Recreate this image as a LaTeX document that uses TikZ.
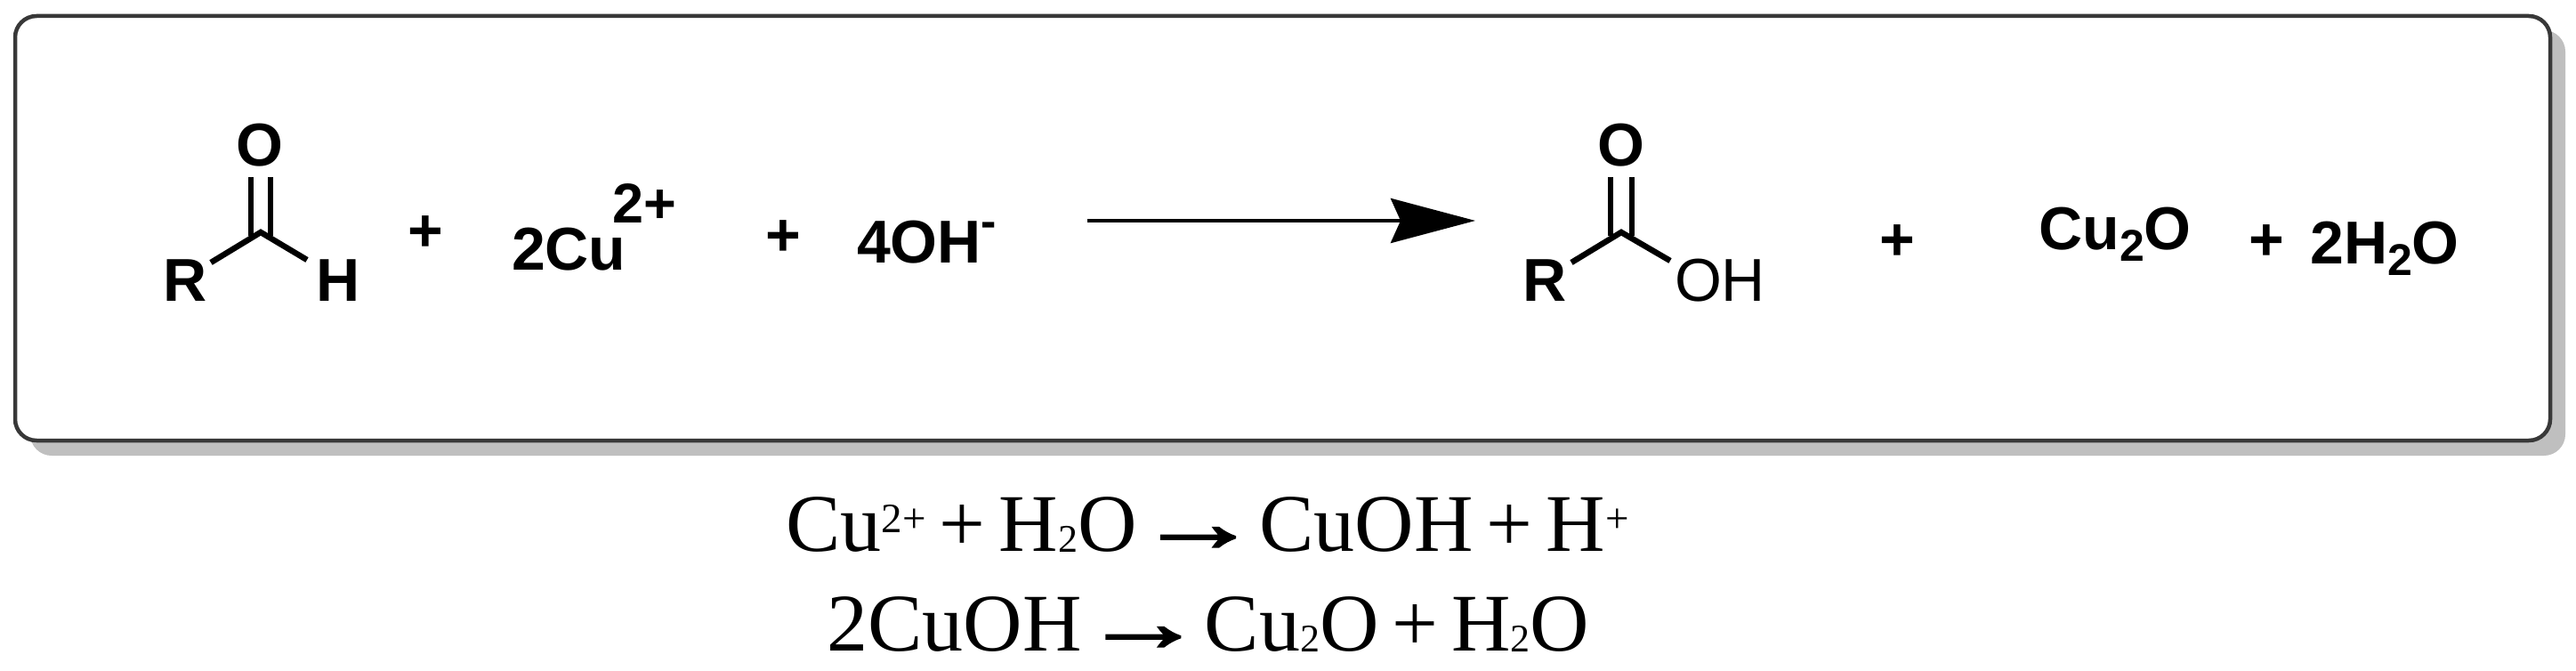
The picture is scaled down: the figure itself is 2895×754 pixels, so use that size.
\documentclass[tikz,border=0pt]{standalone}
\usepackage{fontspec}
\setmainfont{Liberation Sans}
\newfontfamily\eqfont{Liberation Serif}
\newfontfamily\eqarrowfont[FakeBold=2.5]{Liberation Serif}
\usetikzlibrary{arrows.meta}
\definecolor{frameC}{HTML}{383838}
\definecolor{shadowC}{HTML}{BFBFBF}
\newcommand{\chemsub}[1]{\raisebox{-13pt}{\fontsize{50}{50}\selectfont #1}}
\newcommand{\eqsub}[1]{\raisebox{-1pt}{\fontsize{44}{46}\selectfont #1}}
\newcommand{\eqsup}[1]{\raisebox{21pt}{\fontsize{47}{48}\selectfont #1}}
\newcommand{\eqto}{\scalebox{1.5}[1]{\eqarrowfont →}}
\newcommand{\eqplus}{\kern15pt+\kern15pt}
\tikzset{
  chem/.style={inner sep=0pt,outer sep=0pt,anchor=base,font=\fontsize{68}{70}\selectfont\bfseries},
  chemthin/.style={chem,font=\fontsize{68}{70}\selectfont},
  chemplus/.style={inner sep=0pt,outer sep=0pt,anchor=center,font=\fontsize{68}{70}\selectfont\bfseries},
  eqline/.style={inner sep=0pt,outer sep=0pt,anchor=base,font=\fontsize{92}{94}\selectfont\eqfont},
  bond/.style={line width=6.5pt,black},
  frame/.style={rounded corners=24pt,line width=4.5pt,draw=frameC,fill=white},
  frameshadow/.style={rounded corners=24pt,fill=shadowC},
  react/.style={line width=4.5pt,black,-{Stealth[length=95pt,width=50pt,inset=11pt]}}
}
\begin{document}
\begin{tikzpicture}[x=1pt,y=-1pt]
\useasboundingbox (0,0) rectangle (2895,754);
\fill[frameshadow] (34,34) rectangle (2883,512);
\draw[frame] (17,18) rectangle (2866,495);

% aldehyde
\node[chem] (O1) at (292,187) {O};
\node[chem] (R1) at (208,338) {R};
\node[chem] (H1) at (380,338) {H};
\coordinate (C1) at (293,261);
\coordinate (C1a) at (282,265);
\coordinate (C1b) at (304,265);
\coordinate (O1a) at (282,199);
\coordinate (O1b) at (304,199);
\coordinate (R1b) at (237,295);
\coordinate (H1b) at (345,292);
\draw[bond] (O1a) -- (C1a);
\draw[bond] (O1b) -- (C1b);
\draw[bond] (R1b) -- (C1) -- (H1b);

\node[chemplus] (p1) at (478,263) {+};
\node[chem,anchor=base west] (cu) at (575,303) {2Cu\kern-15pt\raisebox{53pt}{\fontsize{63}{63}\selectfont 2+}};
\node[chemplus] (p2) at (880,268) {+};
\node[chem,anchor=base west] (oh) at (963,295) {4OH\raisebox{29pt}{\fontsize{52}{52}\selectfont -}};

% reaction arrow
\coordinate (a0) at (1222,248);
\coordinate (a1) at (1658,248);
\draw[react] (a0) -- (a1);

% acid
\node[chem] (O2) at (1822,187) {O};
\node[chem] (R2) at (1736,338) {R};
\node[chemthin] (OH2) at (1933,338) {OH};
\coordinate (C2) at (1822,261);
\coordinate (C2a) at (1810,265);
\coordinate (C2b) at (1834,265);
\coordinate (O2a) at (1810,199);
\coordinate (O2b) at (1834,199);
\coordinate (R2b) at (1766,295);
\coordinate (H2b) at (1877,293);
\draw[bond] (O2a) -- (C2a);
\draw[bond] (O2b) -- (C2b);
\draw[bond] (R2b) -- (C2) -- (H2b);

\node[chemplus] (p3) at (2132,273) {+};
\node[chem] (cuo) at (2377,280) {Cu\chemsub{2}O};
\node[chemplus] (p4) at (2547,273) {+};
\node[chem] (wat) at (2680,296) {2H\chemsub{2}O};

% equations
\node[eqline] (eq1) at (1357,619) {Cu\eqsup{2+}\eqplus H\eqsub{2}O\eqto CuOH\eqplus H\eqsup{+}};
\node[eqline] (eq2) at (1358,731) {2CuOH\eqto Cu\eqsub{2}O\eqplus H\eqsub{2}O};
\end{tikzpicture}
\end{document}
